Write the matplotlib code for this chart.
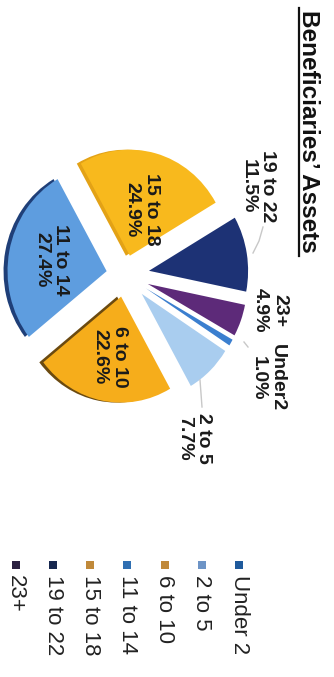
import numpy as np
import matplotlib.pyplot as plt

# data
labels = ["Under 2", "2 to 5", "6 to 10", "11 to 14", "15 to 18", "19 to 22", "23+"]
slice_names = ["Under2", "2 to 5", "6 to 10", "11 to 14", "15 to 18", "19 to 22", "23+"]
shares = [1.0, 7.7, 22.6, 27.4, 24.9, 11.5, 4.9]
colors = ["#3b7fcf", "#a9cdef", "#f6ad1b", "#5e9ddf", "#f8b91d", "#1d3275", "#5d2a79"]
# 3D side only shows on the left-facing slices
shadow_colors = ["none", "none", "#6b4a10", "#1f3f78", "#e3a216", "none", "none"]
legend_colors = ["#1f5a9c", "#6d94c6", "#c0893a", "#2f6fb2", "#c0893a", "#17284f", "#2b2040"]
title = "Beneficiaries\u2019 Assets"

W, H = 334, 677
FONT = "Liberation Sans"

fig = plt.figure(figsize=(W / 100, H / 100), dpi=100)

# ------------------------
# Pie (its own axes, slightly squashed in x like the 3D original)
# ------------------------
sx = 0.935
pax = fig.add_axes([0, 0, 1, 1])
cx, cy = 125 / sx, H - 275
r = 106
explode = [26, 26, 22, 20, 20, 26, 26]

pax.pie(shares, colors=shadow_colors, startangle=-29, counterclock=False,
        radius=r, center=(cx - 4 / sx, cy), explode=explode,
        wedgeprops=dict(linewidth=0))
wedges, _ = pax.pie(shares, colors=colors, startangle=-29, counterclock=False,
                    radius=r, center=(cx, cy), explode=explode,
                    wedgeprops=dict(linewidth=0))
pax.set_aspect("auto")
pax.set_xlim(0, W / sx)
pax.set_ylim(0, H)
pax.axis("off")

pct = [f"{v:.1f}%" for v in shares]

# labels inside the big slices
inside = {"6 to 10": 0.58, "11 to 14": 0.57, "15 to 18": 0.45}
for w, name, p in zip(wedges, slice_names, pct):
    if name not in inside:
        continue
    mid = np.deg2rad((w.theta1 + w.theta2) / 2)
    wx, wy = w.center
    d = inside[name] * r
    pax.text(wx + d * np.cos(mid), wy + d * np.sin(mid), f"{name}\n{p}",
             rotation=-90, ha="center", va="center", multialignment="center",
             fontsize=14, fontweight="bold", family=FONT, color="#1a1a1a")

# ------------------------
# Overlay in image pixel coords (y down)
# ------------------------
ax = fig.add_axes([0, 0, 1, 1])
ax.set_xlim(0, W)
ax.set_ylim(H, 0)
ax.patch.set_visible(False)
ax.axis("off")
ax.set_zorder(2)

outside = {"19 to 22": (258, 186), "23+": (270, 310),
           "Under2": (268, 378), "2 to 5": (194, 438)}
for name, p in zip(slice_names, pct):
    if name in outside:
        x, y = outside[name]
        ax.text(x, y, f"{name}\n{p}", rotation=-90, ha="center", va="center",
                multialignment="center", fontsize=14, fontweight="bold",
                family=FONT, color="#1a1a1a")

# leader lines
ax.plot([263, 259, 253], [227, 241, 253], color="#c8c8c8", lw=1)
ax.plot([244, 248], [342, 347], color="#c8c8c8", lw=1)
ax.plot([200, 202], [380, 407], color="#c8c8c8", lw=1)

# title, underlined
ax.text(308, 131, title, rotation=-90, ha="center", va="center",
        fontsize=17.5, fontweight="bold", family=FONT, color="#111111")
ax.plot([299, 299], [8, 256], color="#111111", lw=1.6)

# legend
for i, (lab, c) in enumerate(zip(labels, legend_colors)):
    x = 239 - 37.2 * i
    ax.scatter([x], [565], marker="s", s=30, color=c, linewidths=0)
    ax.text(x, 575, lab, rotation=-90, ha="center", va="top",
            fontsize=16, family=FONT, color="#222222")

fig.savefig("out.png", dpi=100)
